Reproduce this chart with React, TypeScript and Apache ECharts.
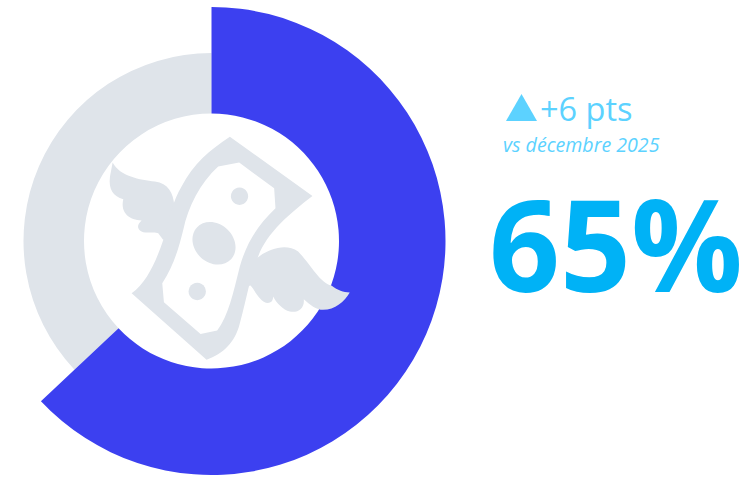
import React, { useEffect, useRef } from "react";
import * as echarts from "echarts";

const categories = ["Oui", "Non"];
const sliceValues = [63, 37];
const mainLabel = "65%";
const deltaLabel = "+6 pts";
const compareLabel = "vs décembre 2025";

const BLUE = "#3C40F0";
const GRAY = "#DFE4EA";
const CYAN = "#00B2F6";
const LIGHT = "#5CD2FF";

const WING_L = "M68 128C90 170 150 180 195 185C235 190 250 220 253 255L270 300L220 360L205 340C195 335 175 340 160 337C140 330 140 315 155 302C120 300 90 280 100 238C70 230 55 210 60 170Z";
const WING_R = "M505 412C540 385 590 370 625 395C660 430 690 490 725 497C745 512 760 517 780 518C765 545 735 570 700 570C680 570 660 555 642 538C645 565 625 580 600 575C580 570 560 550 550 530C550 555 525 555 510 535C500 525 490 505 482 497L470 500L480 420Z";
const BILL = "M420 50L668 228C600 280 530 340 505 410C480 470 475 520 450 610C435 670 400 700 350 720L125 520C170 490 200 420 220 360C240 290 250 240 275 200C310 130 360 90 420 50Z";
const BILL_IN = "M385 140L448 128L553 205L557 265C500 320 470 370 450 440C430 520 415 590 382 632L332 643L222 547L217 490C250 440 265 390 280 330C295 260 330 190 385 140Z";

export default function App() {
  const ref = useRef<HTMLDivElement>(null);
  useEffect(() => {
    document.body.style.margin = "0";
    const g: any = echarts.graphic;
    g.registerShape("wingL", g.extendPath(WING_L, {}));
    g.registerShape("wingR", g.extendPath(WING_R, {}));
    g.registerShape("bill", g.extendPath(BILL, {}));
    g.registerShape("billIn", g.extendPath(BILL_IN, {}));
    const chart = echarts.init(ref.current!, null, { renderer: "svg" });
    chart.setOption({
      animation: false,
      backgroundColor: "#ffffff",
      series: [
        {
          type: "pie",
          center: [211.5, 241],
          radius: [127.5, 188],
          startAngle: 90,
          silent: true,
          label: { show: false },
          labelLine: { show: false },
          z: 1,
          data: categories.map((name, i) => ({
            name,
            value: sliceValues[i],
            itemStyle: { color: i === 1 ? GRAY : "transparent" },
          })),
        },
        {
          type: "pie",
          center: [211.5, 241],
          radius: [127.5, 234],
          startAngle: 90,
          silent: true,
          label: { show: false },
          labelLine: { show: false },
          z: 2,
          data: categories.map((name, i) => ({
            name,
            value: sliceValues[i],
            itemStyle: { color: i === 0 ? BLUE : "transparent" },
          })),
        },
      ],
      graphic: [
        {
          type: "group",
          x: 90,
          y: 120,
          scaleX: 1 / 3,
          scaleY: 1 / 3,
          z: 10,
          children: [
            { type: "wingL", z: 10, style: { fill: GRAY } },
            { type: "wingR", z: 10, style: { fill: GRAY } },
            { type: "bill", z: 10, style: { fill: GRAY } },
            { type: "billIn", z: 11, style: { fill: "#ffffff" } },
            { type: "circle", z: 12, shape: { cx: 449, cy: 229, r: 26 }, style: { fill: GRAY } },
            { type: "circle", z: 12, shape: { cx: 322, cy: 515, r: 26 }, style: { fill: GRAY } },
            { type: "ellipse", z: 12, x: 372, y: 370, rotation: -0.75, shape: { cx: 0, cy: 0, rx: 70, ry: 58 }, style: { fill: GRAY } },
          ],
        },
        { type: "polygon", z: 10, shape: { points: [[506, 121], [537, 121], [521.5, 94]] }, style: { fill: LIGHT } },
        { type: "text", z: 10, x: 540, y: 108, style: { text: deltaLabel, fill: LIGHT, font: "400 32.5px 'Open Sans'", textVerticalAlign: "middle", textBaseline: "middle" } },
        { type: "text", z: 10, x: 503, y: 144, style: { text: compareLabel, fill: LIGHT, font: "italic 400 19.6px 'Open Sans'", textVerticalAlign: "middle", textBaseline: "middle" } },
        { type: "text", z: 10, x: 489, y: 242, scaleX: 0.97, style: { text: mainLabel, fill: CYAN, font: "700 128px 'Open Sans'", textVerticalAlign: "middle", textBaseline: "middle" } },
      ],
    });
    return () => chart.dispose();
  }, []);
  return <div ref={ref} style={{ width: 748, height: 477 }} />;
}
